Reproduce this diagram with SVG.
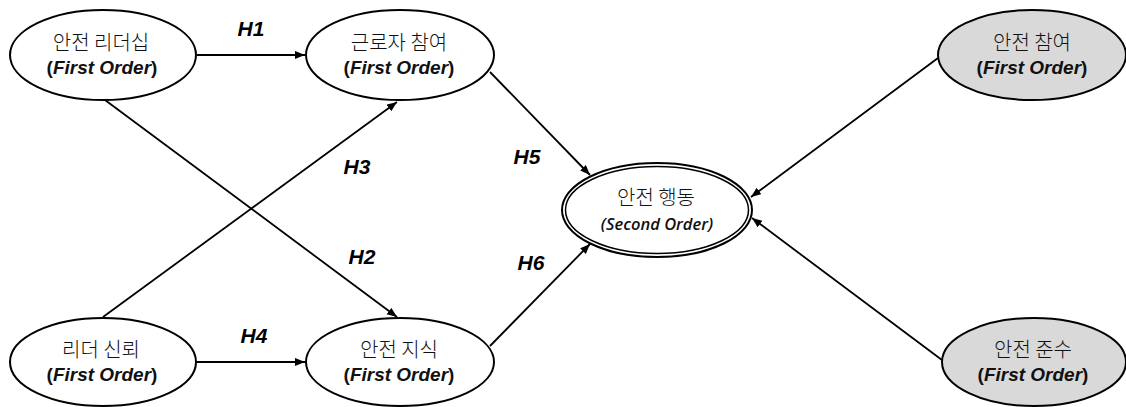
<svg xmlns="http://www.w3.org/2000/svg" width="1126" height="407" viewBox="0 0 1126 407">
<style>
.node{fill:#fff;stroke:#000;stroke-width:2}
.gray{fill:#d9d9d9}
.ko{font-family:"Noto Sans CJK KR","Noto Sans",sans-serif;font-size:20px;font-weight:300;text-anchor:middle;fill:#111}
.en{font-family:"Liberation Sans",Arial,sans-serif;font-size:19px;font-weight:bold;text-anchor:middle;fill:#111}
.en2{font-family:"Open Sans","Liberation Sans",sans-serif;font-size:16.5px;font-style:italic;font-weight:600;text-anchor:middle;fill:#111}
.lab{font-family:"Liberation Sans",Arial,sans-serif;font-size:21px;font-weight:bold;font-style:italic;text-anchor:middle;fill:#000}
.edge{stroke:#000;stroke-width:1.8;fill:none;marker-end:url(#arr)}
</style>
<defs>
<marker id="arr" markerUnits="userSpaceOnUse" markerWidth="12" markerHeight="10" refX="10" refY="4" orient="auto">
<path d="M0,0 L10,4 L0,8 Z" fill="#000"/>
</marker>
</defs>
<rect width="1126" height="407" fill="#fff"/>
<g id="connectors">
<line class="edge" x1="197" y1="55" x2="305" y2="55"/>
<line class="edge" x1="197" y1="362" x2="305" y2="362"/>
<line class="edge" x1="105" y1="100" x2="397" y2="317"/>
<line class="edge" x1="103" y1="317" x2="397" y2="102"/>
<line class="edge" x1="490" y1="72" x2="590" y2="175"/>
<line class="edge" x1="490" y1="346" x2="590" y2="244"/>
<line class="edge" x1="938" y1="58" x2="751" y2="197"/>
<line class="edge" x1="942" y1="360" x2="752" y2="218"/>
<text class="lab" x="251" y="36">H1</text>
<text class="lab" x="254" y="343">H4</text>
<text class="lab" x="357" y="174">H3</text>
<text class="lab" x="362" y="264">H2</text>
<text class="lab" x="527" y="164">H5</text>
<text class="lab" x="531" y="270">H6</text>
</g>
<g id="n1">
<ellipse class="node" cx="103" cy="55" rx="93" ry="45"/>
<text class="ko" x="101" y="50">안전 리더십</text>
<text class="en" x="102" y="74">(<tspan font-style="italic">First Order</tspan>)</text>
</g>
<g id="n2">
<ellipse class="node" cx="400" cy="55" rx="94" ry="45"/>
<text class="ko" x="399" y="50">근로자 참여</text>
<text class="en" x="399" y="74">(<tspan font-style="italic">First Order</tspan>)</text>
</g>
<g id="n3">
<ellipse class="node" cx="103" cy="362" rx="93" ry="44"/>
<text class="ko" x="101" y="357">리더 신뢰</text>
<text class="en" x="102" y="381">(<tspan font-style="italic">First Order</tspan>)</text>
</g>
<g id="n4">
<ellipse class="node" cx="400" cy="362" rx="94" ry="44"/>
<text class="ko" x="399" y="357">안전 지식</text>
<text class="en" x="399" y="381">(<tspan font-style="italic">First Order</tspan>)</text>
</g>
<g id="n5">
<ellipse class="node" cx="657" cy="210" rx="95" ry="47" stroke-width="1.5"/>
<ellipse cx="657" cy="210" rx="91.5" ry="43.5" fill="none" stroke="#000" stroke-width="1.5"/>
<text class="ko" x="656" y="205" font-size="19">안전 행동</text>
<text class="en2" x="657" y="230">(Second Order)</text>
</g>
<g id="n6">
<ellipse class="node gray" cx="1032" cy="55" rx="94" ry="45"/>
<text class="ko" x="1032" y="50">안전 참여</text>
<text class="en" x="1032" y="74">(<tspan font-style="italic">First Order</tspan>)</text>
</g>
<g id="n7">
<ellipse class="node gray" cx="1034" cy="362" rx="92" ry="44"/>
<text class="ko" x="1033" y="357">안전 준수</text>
<text class="en" x="1033" y="381">(<tspan font-style="italic">First Order</tspan>)</text>
</g>
</svg>
